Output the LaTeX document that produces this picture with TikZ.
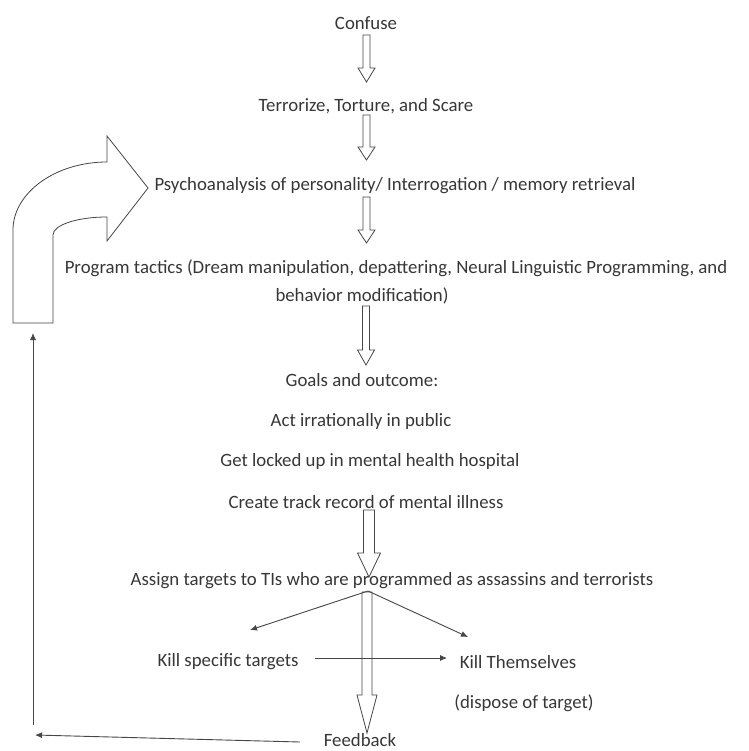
\documentclass[tikz,border=0pt]{standalone}
\usepackage{fontspec}
\setmainfont{Carlito}
\usetikzlibrary{calc,arrows.meta}
\definecolor{txt}{RGB}{55,55,55}
\definecolor{ln}{RGB}{70,70,70}
\tikzset{
  lbl/.style={inner sep=0pt, text=txt, font=\fontsize{18.8}{22}\selectfont},
  barr/.style={draw=ln, line width=0.8pt, fill=white, line join=miter},
  thin/.style={draw=ln, line width=0.9pt},
  tip/.style={-{Latex[length=7pt,width=6pt]}}
}
% block arrow: #1 top coordinate, #2 tip coordinate, #3 half shaft, #4 half head, #5 head length
\newcommand\barrow[5]{%
  \path[barr] let \p1=(#1), \p2=(#2) in
    (\x1-#3,\y1) -- (\x1+#3,\y1) -- (\x1+#3,\y2+#5) -- (\x1+#4,\y2+#5) -- (\x1,\y2)
    -- (\x1-#4,\y2+#5) -- (\x1-#3,\y2+#5) -- cycle;}
\begin{document}
\begin{tikzpicture}[x=1pt,y=-1pt]
\useasboundingbox (0,0) rectangle (748,751);
\fill[white] (0,0) rectangle (748,751);
% text nodes
\node[lbl] (conf) at (366,23) {Confuse};
\node[lbl] (terr) at (366,106) {Terrorize, Torture, and Scare};
\node[lbl] (psy) at (395,186) {Psychoanalysis of personality/ Interrogation / memory retrieval};
\node[lbl] (prog1) at (396,268) {Program tactics (Dream manipulation, depattering, Neural Linguistic Programming, and};
\node[lbl] (prog2) at (362,296) {behavior modification)};
\node[lbl] (goals) at (362,380) {Goals and outcome:};
\node[lbl] (act) at (361,421) {Act irrationally in public};
\node[lbl] (locked) at (370,461) {Get locked up in mental health hospital};
\node[lbl] (create) at (366,502) {Create track record of mental illness};
\node[lbl] (assign) at (392,581) {Assign targets to TIs who are programmed as assassins and terrorists};
\node[lbl] (kills) at (228,662) {Kill specific targets};
\node[lbl] (killt) at (518,662) {Kill Themselves};
\node[lbl] (disp) at (524,703) {(dispose of target)};
\node[lbl] (fb) at (360,740) {Feedback};
% block arrow end points
\coordinate (a1s) at (366.5,35);  \coordinate (a1e) at (366.5,82);
\coordinate (a2s) at (366.5,115); \coordinate (a2e) at (366.5,160);
\coordinate (a3s) at (366.5,197); \coordinate (a3e) at (366.5,243);
\coordinate (a4s) at (366,306);   \coordinate (a4e) at (366,365);
\coordinate (a5s) at (369,510);   \coordinate (a5e) at (369,577);
\coordinate (a6s) at (367,592);   \coordinate (a6e) at (367,733);
\barrow{a1s}{a1e}{3.5pt}{8.5pt}{14pt}
\barrow{a2s}{a2e}{3.5pt}{8.5pt}{13pt}
\barrow{a3s}{a3e}{3.5pt}{8.5pt}{13pt}
\barrow{a4s}{a4e}{3.5pt}{8.5pt}{15pt}
\barrow{a5s}{a5e}{5.5pt}{11.5pt}{24pt}
\barrow{a6s}{a6e}{5pt}{10pt}{38pt}
% fan-out arrows
\coordinate (fan) at (368,591);
\coordinate (lt) at (250,630);
\coordinate (rt) at (468,637);
\draw[thin,tip] (fan) -- (lt);
\draw[thin,tip] (fan) -- (rt);
\coordinate (hs) at (315,658);
\coordinate (he) at (447,658);
\draw[thin,tip] (hs) -- (he);
% feedback loop
\coordinate (fbs) at (300,742);
\coordinate (fbl) at (35,735);
\coordinate (vb) at (33,725);
\coordinate (vt) at (33,333);
\draw[thin,tip] (fbs) -- (fbl);
\draw[thin,tip] (vb) -- (vt);
% big bent arrow
\path[barr] (13,323) -- (13,230) .. controls (13,193) and (55,162) .. (107,162)
  -- (107,136) -- (148,188) -- (107,241) -- (107,217)
  .. controls (77,217) and (53,225) .. (53,235) -- (53,323) -- cycle;
\end{tikzpicture}
\end{document}
